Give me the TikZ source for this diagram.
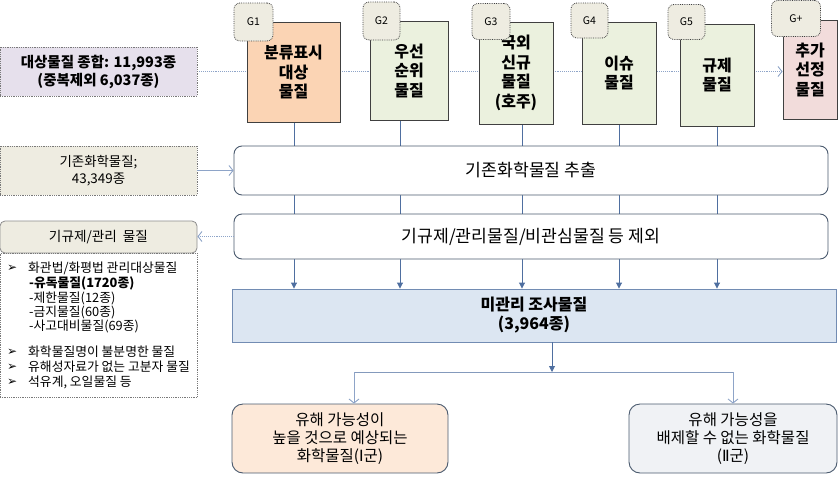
\documentclass[tikz,border=0pt]{standalone}
\usepackage{fontspec}
\setmainfont{Noto Sans CJK KR}
\newfontfamily\symf{DejaVu Sans}
\usetikzlibrary{arrows.meta,backgrounds,calc}
\definecolor{gpeach}{HTML}{FBD4B4}
\definecolor{ggreen}{HTML}{EBF1DE}
\definecolor{gpink}{HTML}{F2DCDB}
\definecolor{tagfill}{HTML}{EEECE1}
\definecolor{lavender}{HTML}{E6E0EC}
\definecolor{bdark}{HTML}{404040}
\definecolor{slate}{HTML}{4A5A6E}
\definecolor{lineblue}{HTML}{4F6FA0}
\definecolor{lightline}{HTML}{8EA4C8}
\definecolor{paleblue}{HTML}{DCE6F2}
\definecolor{peach2}{HTML}{FDE9D9}
\definecolor{greyfill}{HTML}{F0F2F5}
\tikzset{
  gbox/.style={draw=bdark, line width=0.9pt, minimum width=#1, inner sep=0pt, align=center,
     font=\fontsize{16}{19.5}\selectfont\bfseries},
  tagbox/.style={draw=bdark, densely dotted, line width=0.8pt, rounded corners=6pt, fill=tagfill,
     inner sep=0pt, font=\fontsize{10.5}{12}\selectfont},
  sidebox/.style={draw=bdark!70, densely dotted, line width=0.8pt, minimum width=197pt, minimum height=49pt,
     inner sep=0pt, align=center},
  wide/.style={draw=slate, line width=0.9pt, rounded corners=8pt, fill=white, minimum width=594pt,
     inner sep=0pt, font=\fontsize{17.2}{19}\selectfont},
  resbox/.style={draw=slate, line width=0.9pt, rounded corners=11pt, minimum width=#1, minimum height=69pt,
     inner sep=0pt, align=center, font=\fontsize{15.5}{18}\selectfont},
  dline/.style={anchor=west, inner sep=0pt, font=\fontsize{12.8}{14}\selectfont},
  bul/.style={anchor=west, inner sep=0pt, font=\symf\fontsize{12}{12}\selectfont},
  vconn/.style={lineblue, line width=0.9pt, -{Triangle[length=6pt,width=6pt]}},
  lconn/.style={lightline, line width=0.9pt, -{Straight Barb[length=4pt,width=10pt]}},
}
\begin{document}
\begin{tikzpicture}[x=1pt,y=-1pt]
\useasboundingbox (0,0) rectangle (838,477);

% left top box
\node[sidebox, fill=lavender, font=\fontsize{14.5}{18}\selectfont\bfseries] (tot) at (98.5,71.5)
  {대상물질 종합: 11,993종\\(중복제외 6,037종)};

% G boxes
\node[gbox=93pt, minimum height=100pt, fill=gpeach] (g1) at (293.5,72) {분류표시\\대상\\물질};
\node[gbox=78pt, minimum height=99pt, fill=ggreen] (g2) at (409,70.5) {우선\\순위\\물질};
\node[gbox=74pt, minimum height=102pt, fill=ggreen] (g3) at (516,73) {국외\\신규\\물질\\(호주)};
\node[gbox=74pt, minimum height=102pt, fill=ggreen] (g4) at (619,73) {이슈\\물질};
\node[gbox=74pt, minimum height=102pt, fill=ggreen] (g5) at (717,75) {규제\\물질};
\node[gbox=54pt, minimum height=99pt, fill=gpink] (gp) at (810,69.5) {추가\\선정\\물질};

% tags
\node[tagbox, minimum width=39pt, minimum height=38pt] (t1) at (253.5,22) {G1};
\node[tagbox, minimum width=37pt, minimum height=38pt] (t2) at (381.5,21) {G2};
\node[tagbox, minimum width=38pt, minimum height=36pt] (t3) at (491,21.5) {G3};
\node[tagbox, minimum width=37pt, minimum height=35pt] (t4) at (589.5,20.5) {G4};
\node[tagbox, minimum width=37pt, minimum height=35pt] (t5) at (686.5,22) {G5};
\node[tagbox, minimum width=49pt, minimum height=36pt] (tp) at (796,18.5) {G+};

% existing chemicals
\node[sidebox, fill=tagfill, font=\fontsize{13.4}{17}\selectfont] (ex) at (98.5,170.5)
  {기존화학물질;\\43,349종};

% wide process boxes
\node[wide, minimum height=49pt] (extract) at (531,170.5) {기존화학물질 추출};
\node[wide, minimum height=45pt] (exclude) at (531,236.5) {기규제/관리물질/비관심물질 등 제외};

% header + details
\node[draw=bdark!60, line width=0.8pt, rounded corners=5pt, fill=tagfill, minimum width=197pt,
      minimum height=32pt, inner sep=0pt, font=\fontsize{13.6}{15}\selectfont] (hdr) at (98.5,237) {기규제/관리\ \ 물질};
\node[draw=bdark!70, densely dotted, line width=0.8pt, minimum width=197pt, minimum height=144pt,
      inner sep=0pt, anchor=north] (det) at (98.5,253) {};
\node[bul] (k1) at (7,268) {➢};
\node[dline] (d1) at (28,268) {화관법/화평법 관리대상물질};
\node[dline] (d2) at (29,283) {\bfseries -유독물질(1720종)};
\node[dline] (d3) at (29,298) {-제한물질(12종)};
\node[dline] (d4) at (29,312) {-금지물질(60종)};
\node[dline] (d5) at (29,326) {-사고대비물질(69종)};
\node[bul] (k6) at (7,352) {➢};
\node[dline] (d6) at (28,352) {화학물질명이 불분명한 물질};
\node[bul] (k7) at (7,367) {➢};
\node[dline] (d7) at (28,367) {유해성자료가 없는 고분자 물질};
\node[bul] (k8) at (7,382) {➢};
\node[dline] (d8) at (28,382) {석유계, 오일물질 등};

% unmanaged
\node[draw=lineblue!80, line width=0.9pt, fill=paleblue, minimum width=604pt, minimum height=53pt,
      inner sep=0pt, align=center, font=\fontsize{16}{19}\selectfont\bfseries] (un) at (534,315.5)
  {미관리 조사물질\\(3,964종)};

% results
\node[resbox=216pt, fill=peach2] (b1) at (340,438.5) {유해 가능성이\\높을 것으로 예상되는\\화학물질({\symf Ⅰ}군)};
\node[resbox=208pt, fill=greyfill] (b2) at (733,438.5) {유해 가능성을\\배제할 수 없는 화학물질\\({\symf Ⅱ}군)};

\coordinate (j) at (552,372);

\begin{pgfonlayer}{background}
  \draw[lightline, line width=0.9pt, densely dotted, -{Straight Barb[length=4pt,width=10pt]}]
    (tot.east) -- (tot.east -| gp.west);
  \draw[vconn] ([xshift=0.5pt]g1.south) -- ([xshift=0.5pt]g1.south |- un.north);
  \draw[vconn] ([xshift=-9pt]g2.south) -- ([xshift=-9pt]g2.south |- un.north);
  \draw[vconn] ([xshift=6pt]g3.south) -- ([xshift=6pt]g3.south |- un.north);
  \draw[vconn] (g4.south) -- (g4.south |- un.north);
  \draw[vconn] (g5.south) -- (g5.south |- un.north);
\end{pgfonlayer}

\draw[lconn] (ex.east) -- (ex.east -| extract.west);
\draw[lconn, densely dotted] (exclude.west) -- (exclude.west -| hdr.east);

\draw[vconn] (un.south -| j) -- (j);
\draw[line width=0.9pt, lineblue!70] ([xshift=14pt]b1.north |- j) -- (b2.north |- j);
\draw[lconn] ([xshift=14pt]b1.north |- j) -- ([xshift=14pt]b1.north);
\draw[lconn] (b2.north |- j) -- (b2.north);
\end{tikzpicture}
\end{document}
